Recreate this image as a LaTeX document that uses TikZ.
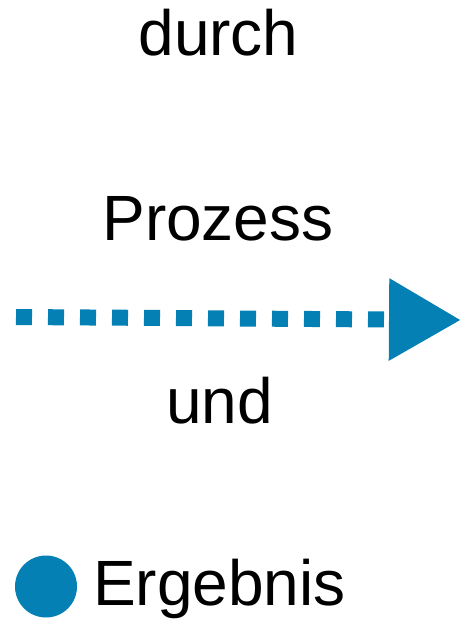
\documentclass[tikz,border=0pt]{standalone}
\usepackage{fontspec}
\setmainfont{Liberation Sans}
\usetikzlibrary{arrows.meta}
\definecolor{blau}{RGB}{5,128,180}

\begin{document}
\begin{tikzpicture}[x=1pt, y=-1pt, wort/.style = {inner sep=0pt, anchor=base, font=\fontsize{64}{64}\selectfont}, punkt/.style = {shape=circle, fill=blau, inner sep=0pt, minimum size=62pt}, pfeil/.style = {draw=blau, line width=16pt, dash pattern=on 16pt off 16pt, -{Triangle[length=72pt, width=78pt, fill=blau]}}]
				\useasboundingbox (0,0) rectangle (461,623);
				\node[wort] (durch) at (218.5,56) {durch};
				\node[wort] (prozess) at (218,240) {Prozess};
				\coordinate (start) at (16,317);
				\coordinate (spitze) at (461,320);
				\draw[pfeil] (start) -- (spitze);
				\node[wort] (und) at (219.5,423) {und};
				\node[punkt] (kreis) at (46,586.5) {};
				\node[wort, anchor=base west] (ergebnis) at (93,605) {Ergebnis};
			\end{tikzpicture}
\end{document}
